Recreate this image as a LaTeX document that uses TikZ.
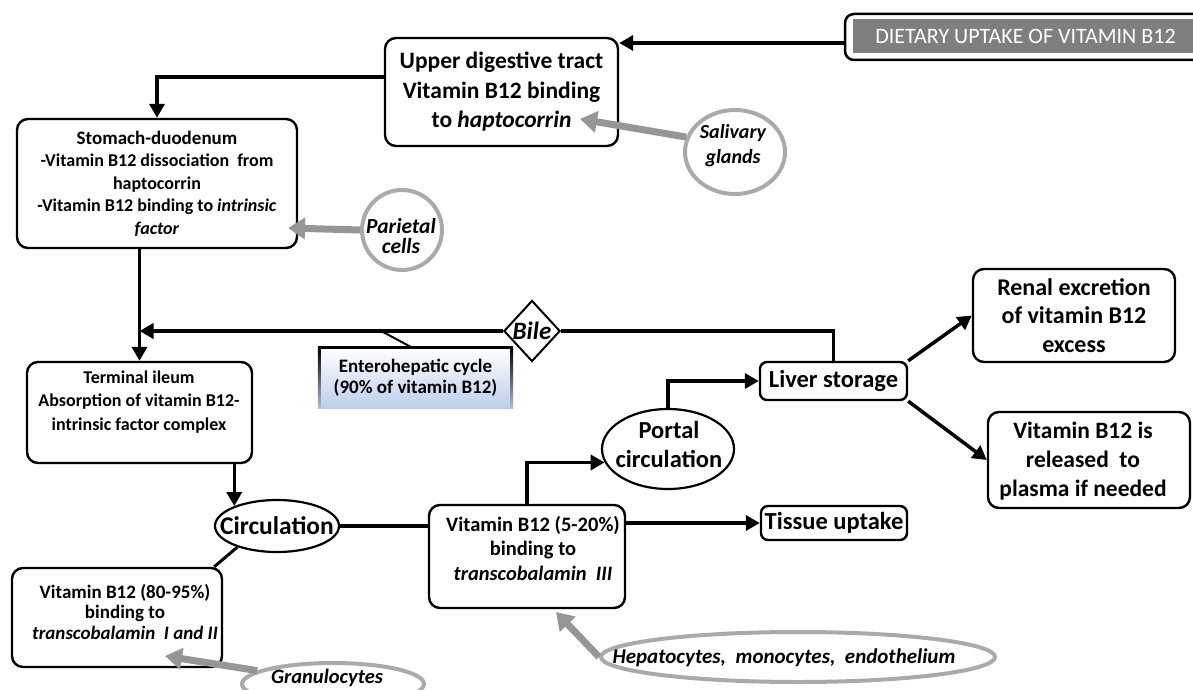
\documentclass[tikz,border=0pt]{standalone}
\usepackage{fontspec}
\setmainfont{Carlito}
\usetikzlibrary{shapes.geometric,arrows.meta,calc}
\definecolor{gline}{RGB}{150,150,150}
\definecolor{gring}{RGB}{170,170,170}
\definecolor{dietgray}{RGB}{127,127,127}
\definecolor{entblue}{RGB}{190,206,236}
\newcommand\fsz[2]{\fontsize{#1}{#2}\selectfont}
\begin{document}
\begin{tikzpicture}[x=1pt,y=-1pt,
  box/.style={draw=black, line width=2.4pt, rounded corners=11pt, inner sep=0pt, align=center, fill=white},
  oval/.style={ellipse, draw=black, line width=2.2pt, inner sep=0pt, align=center, fill=white},
  goval/.style={ellipse, draw=gring, line width=4pt, inner sep=0pt, align=center, fill=white},
  txt/.style={inner sep=0pt, align=center},
  arr/.style={line width=3.5pt, -{Triangle[length=14pt,width=15pt]}},
  ln/.style={line width=3.5pt},
  garr/.style={draw=gline, line width=7pt, -{Triangle[length=17pt,width=21pt]}}
]
\useasboundingbox (0,0) rectangle (1193,690);
\clip (0,0) rectangle (1193,690);

% dietary uptake
\node[draw=black, line width=2.5pt, rounded corners=9pt, minimum width=360pt, minimum height=46pt, inner sep=0pt] (diet) at (1025,37) {};
\node[fill=dietgray, minimum width=345pt, minimum height=34pt, inner sep=0pt, text=white, font=\fsz{22}{24}] (dietin) at (1025.5,36) {DIETARY UPTAKE OF VITAMIN B12};

% boxes
\node[box, minimum width=233pt, minimum height=108pt, font=\fsz{23.5}{29.5}\bfseries] (upper) at (501.5,92)
  {Upper digestive tract\\Vitamin B12 binding\\to \textit{haptocorrin}};
\node[box, minimum width=280pt, minimum height=129pt, font=\fsz{18}{22.5}\bfseries] (stom) at (157,183.5)
  {\fsz{19}{22.5}Stomach-duodenum\\-Vitamin B12 dissociation\ \ from\\haptocorrin\\-Vitamin B12 binding to \textit{intrinsic}\\\textit{factor}};
\node[box, minimum width=225pt, minimum height=101pt] (term) at (139.5,412.5) {};
\node[txt, font=\fsz{18}{23.5}\bfseries] at (139,402)
  {Terminal ileum\\Absorption of vitamin B12-\\intrinsic factor complex};
\node[box, minimum width=210pt, minimum height=99pt] (b8095) at (117,617.5) {};
\node[txt, font=\fsz{19}{20.5}\bfseries] at (125,612)
  {Vitamin B12 (80-95\%)\\binding to\\\textit{transcobalamin\ \ I and II}};
\node[box, minimum width=196pt, minimum height=103pt] (b520) at (527,556.5) {};
\node[txt, font=\fsz{20.5}{24.5}\bfseries] at (533,548)
  {Vitamin B12 (5-20\%)\\binding to\\\textit{transcobalamin\ \ III}};
\node[box, rounded corners=7pt, minimum width=147pt, minimum height=38pt, font=\fsz{24.5}{26}\bfseries] (liver) at (833.5,381) {Liver storage};
\node[box, rounded corners=7pt, minimum width=146pt, minimum height=34pt, font=\fsz{24.5}{26}\bfseries] (tissue) at (834,523) {Tissue uptake};
\node[box, minimum width=202pt, minimum height=93pt, font=\fsz{24}{28.5}\bfseries] (renal) at (1074,315.5)
  {Renal excretion\\of vitamin B12\\excess};
\node[box, minimum width=202pt, minimum height=96pt] (rel) at (1089,460) {};
\node[txt, font=\fsz{23.5}{29}\bfseries] at (1083,461)
  {Vitamin B12 is\\released\ \ to\\plasma if needed};

% ovals
\node[oval, minimum width=124pt, minimum height=52pt] (circ) at (277,526) {};
\node[txt, font=\fsz{25.5}{28}\bfseries] at (277,526) {Circulation};
\node[oval, minimum width=132pt, minimum height=80pt] (portal) at (668,449) {};
\node[txt, font=\fsz{24.5}{29}\bfseries] at (669,444.5) {Portal\\circulation};

% enterohepatic box
\node[minimum width=195pt, minimum height=60pt, inner sep=0pt, top color=white, bottom color=entblue] (entero) at (415.5,378) {};
\shade[top color=black, bottom color=entblue!80!gray] (entero.north west) rectangle ([xshift=2.5pt]entero.south west);
\shade[top color=black, bottom color=entblue!80!gray] ([xshift=-2.5pt]entero.north east) rectangle (entero.south east);
\draw[line width=3pt] (entero.north west) -- (entero.north east);
\node[txt, font=\fsz{19}{21}\bfseries] at (415.5,377.5) {Enterohepatic cycle\\(90\% of vitamin B12)};

% gray ovals
\node[goval, minimum width=100pt, minimum height=84pt] (sal) at (735,152) {};
\node[txt, font=\fsz{20}{25}\bfseries\itshape] at (733,145.5) {Salivary\\glands};
\node[goval, minimum width=80pt, minimum height=80pt] (par) at (402,230) {};
\node[txt, font=\fsz{21.5}{20}\bfseries\itshape] at (401,236.5) {Parietal\\cells};
\node[goval, minimum width=182pt, minimum height=42pt] (gran) at (333,684) {};
\node[txt, font=\fsz{20.5}{20}\bfseries\itshape] at (327,678) {Granulocytes};
\node[goval, minimum width=394pt, minimum height=50pt] (hep) at (798,657) {};
\node[txt, font=\fsz{21}{20}\bfseries\itshape] at (784,658) {Hepatocytes,\ \ monocytes,\ \ endothelium};

% black connectors
\draw[arr] ([yshift=-6pt]diet.west) -- ([yshift=-6pt]diet.west -| upper.east);
\draw[arr] ([yshift=15pt]upper.west) -| (stom.north);
\draw[arr] (term.north |- stom.south) -- (term.north);
\node[diamond, draw=black, line width=2pt, fill=white, minimum width=56pt, minimum height=61pt, inner sep=0pt, font=\fsz{25}{26}\bfseries\itshape] (bile) at (532,331) {Bile};
\draw[ln] (liver.north) -- (liver.north |- bile.east) -- (bile.east);
\draw[arr] (bile.west) -- (bile.west -| term.north);
\coordinate (ej) at (383,332);
\draw[line width=2pt] (ej) -- ([xshift=-3pt]entero.north);
\draw[arr] (term.south -| circ.155.7) -- (circ.155.7);
\draw[ln] (circ.east) -- (circ.east -| b520.west);
\draw[line width=3pt] (circ.208) -- ([xshift=-9pt]b8095.north east);
\draw[arr] (b520.north) |- (portal.192);
\draw[arr] (portal.north) |- (liver.west);
\draw[arr] (b520.east |- tissue.west) -- (tissue.west);
\draw[arr] (liver.north east) -- (renal.west);
\draw[arr] (liver.south east) -- (rel.west);

% gray arrows
\coordinate (salT) at (580,119);
\coordinate (parT) at (288,228);
\coordinate (granT) at (165,656);
\coordinate (hepT) at (556,612);
\draw[garr] (sal.163) -- (salT);
\draw[garr] (par.west) -- (parT);
\draw[garr] (gran.170) -- (granT);
\draw[garr] (hep.west) -- (hepT);
\end{tikzpicture}
\end{document}
